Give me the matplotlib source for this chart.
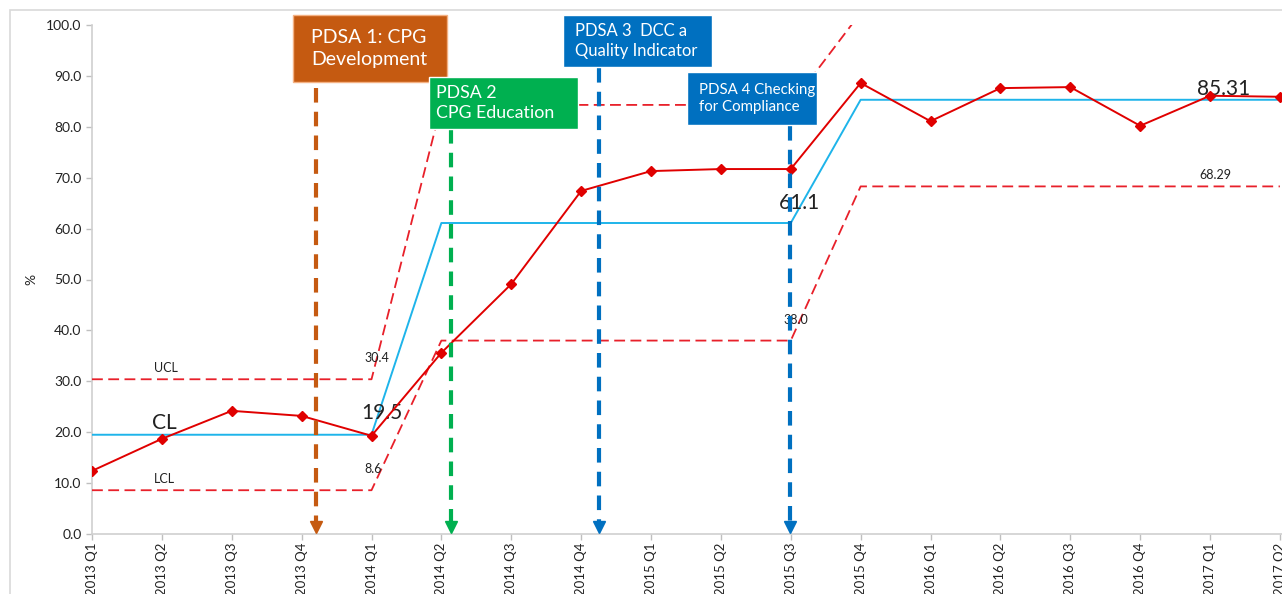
import matplotlib
matplotlib.use("Agg")
import matplotlib.pyplot as plt
from matplotlib.patches import Rectangle

plt.rcParams['font.family'] = ['Lato', 'DejaVu Sans']

categories = ["2013 Q1", "2013 Q2", "2013 Q3", "2013 Q4",
              "2014 Q1", "2014 Q2", "2014 Q3", "2014 Q4",
              "2015 Q1", "2015 Q2", "2015 Q3", "2015 Q4",
              "2016 Q1", "2016 Q2", "2016 Q3", "2016 Q4",
              "2017 Q1", "2017 Q2"]
values = [12.4, 18.7, 24.2, 23.2, 19.3, 35.6, 49.1, 67.4, 71.3, 71.7, 71.7,
          88.6, 81.1, 87.6, 87.8, 80.2, 86.1, 85.9]
cl = [19.5] * 5 + [61.1] * 6 + [85.31] * 7
ucl = [30.4] * 5 + [84.3] * 6 + [102.4] * 7
lcl = [8.6] * 5 + [38.0] * 6 + [68.29] * 7
yticks = [0, 10, 20, 30, 40, 50, 60, 70, 80, 90, 100]

# annotations: text, colour, arrow x (category position), box in pixels (x0, y0, x1, y1),
# fontsize, arrow top pixel, text left padding
pdsa = [
    ("PDSA 1: CPG\nDevelopment", "#C55A11", 3.2, (293, 15, 447, 82), 14, 88, 18),
    ("PDSA 2\nCPG Education", "#00B050", 5.14, (429, 77, 578, 129), 12.8, 129, 7),
    ("PDSA 3  DCC a\nQuality Indicator", "#0070C0", 7.25, (563, 15, 712, 67), 12, 68, 12),
    ("PDSA 4 Checking\nfor Compliance", "#0070C0", 9.99, (687, 72, 817, 125), 10.8, 126, 12),
]

W, H = 1282, 594
fig = plt.figure(figsize=(W / 100, H / 100), dpi=100)
ax_left, ax_right, ax_top, ax_bot = 92, 1282, 25, 534
ax = fig.add_axes([ax_left / W, 1 - ax_bot / H, (ax_right - ax_left) / W, (ax_bot - ax_top) / H])

x = list(range(len(categories)))
ax.set_xlim(0, 17.03)
ax.set_ylim(0, 100)

dash = (6, 3)
ax.plot(x, cl, color="#1EB4EA", lw=1.4, zorder=3)
ax.plot(x, ucl, color="#E8202A", lw=1.3, dashes=dash, zorder=3)
ax.plot(x, lcl, color="#E8202A", lw=1.3, dashes=dash, zorder=3)
ax.plot(x, values, color="#E00000", lw=1.4, marker="D", markersize=5.5, zorder=4)

# text labels
lab = dict(ha="center", va="center", color="#222222")
ax.text(1.06, 32.6, "UCL", fontsize=9, **lab)
ax.text(1.04, 21.8, "CL", fontsize=15, **lab)
ax.text(1.04, 10.8, "LCL", fontsize=9, **lab)
ax.text(4.08, 34.6, "30.4", fontsize=9, **lab)
ax.text(4.15, 23.8, "19.5", fontsize=15, **lab)
ax.text(4.02, 12.8, "8.6", fontsize=9, **lab)
ax.text(10.13, 65.0, "61.1", fontsize=15, **lab)
ax.text(10.07, 42.0, "38.0", fontsize=9, **lab)
ax.text(16.2, 87.5, "85.31", fontsize=15, **lab)
ax.text(16.07, 70.5, "68.29", fontsize=9, **lab)

# PDSA boxes and arrows
def px2val(py):
    return (ax_bot - py) / (ax_bot - ax_top) * 100

for text, col, ax_x, (x0, y0, x1, y1), fs, ytop, padx in pdsa:
    rect = Rectangle((x0 / W, 1 - y1 / H), (x1 - x0) / W, (y1 - y0) / H,
                     transform=fig.transFigure, facecolor=col,
                     edgecolor=("#F4B183" if col == "#C55A11" else "white"),
                     lw=1.0, zorder=10)
    fig.add_artist(rect)
    fig.text((x0 + padx) / W, 1 - ((y0 + y1) / 2) / H, text, color="white",
             fontsize=fs, ha="left", va="center", linespacing=1.35, zorder=11)
    ax.plot([ax_x, ax_x], [px2val(ytop), 1.5], color=col, lw=3, dashes=(3.5, 2.2),
            zorder=5, clip_on=False)
    ax.plot([ax_x], [1.3], marker="v", color=col, markersize=8, zorder=6, clip_on=False)

# axes styling
ax.set_xticks(x)
ax.set_xticklabels(categories, rotation=90, fontsize=9.5, color="#222222")
ax.set_yticks(yticks)
ax.set_yticklabels([f"{v:.1f}" for v in yticks], fontsize=10, color="#222222")
ax.tick_params(axis="both", direction="out", length=4, color="#BFBFBF", width=1)
ax.tick_params(axis="x", pad=2)
for s in ["top", "right"]:
    ax.spines[s].set_visible(False)
for s in ["left", "bottom"]:
    ax.spines[s].set_color("#D0D0D0")
    ax.spines[s].set_linewidth(1.2)
ax.set_ylabel("%", fontsize=10, color="#222222")
ax.yaxis.set_label_coords(-0.046, 0.5)

# outer chart frame
fig.add_artist(Rectangle((10 / W, -0.1), 1.2, 1.1 - 10 / H, transform=fig.transFigure,
                         fill=False, edgecolor="#D9D9D9", lw=1.2))

fig.savefig("out.png", dpi=100)
